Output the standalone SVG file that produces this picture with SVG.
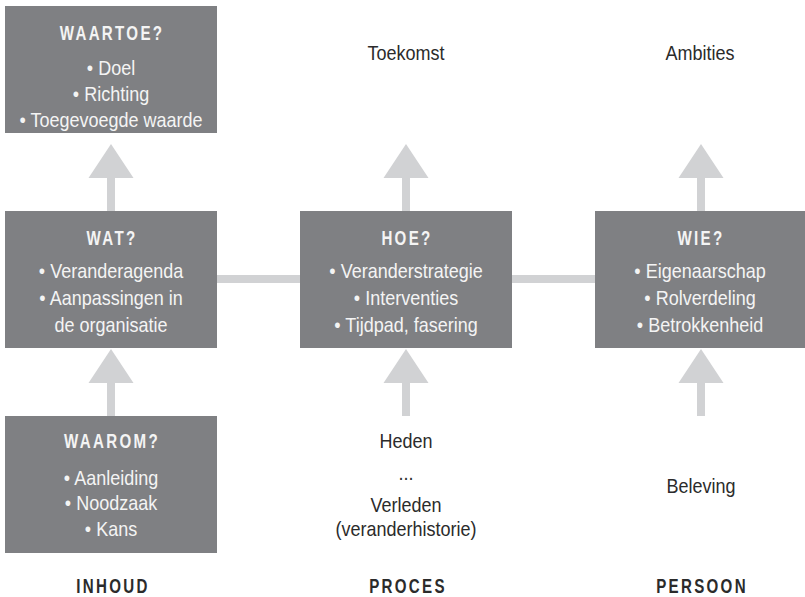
<svg xmlns="http://www.w3.org/2000/svg" width="805" height="597" viewBox="0 0 805 597">
<style>
.box{fill:#7f8083}
.arr{fill:#d1d2d4}
.t{font-family:"Liberation Sans",Arial,sans-serif;font-size:20px;text-anchor:middle}
.w{fill:#f4f4f4}
.d{fill:#2b2b2b}
.h{font-weight:bold;letter-spacing:3.2px;font-size:21px}
</style>
<rect width="805" height="597" fill="#ffffff"/>
<defs>
<path id="arrow" d="M0,0 L22.5,34 L4,34 L4,67 L-4,67 L-4,34 L-22.5,34 Z"/>
</defs>
<g id="connectors">
<rect class="arr" x="217" y="275" width="83" height="8"/>
<rect class="arr" x="512" y="275" width="83" height="8"/>
<use href="#arrow" class="arr" x="111" y="144"/>
<use href="#arrow" class="arr" x="406" y="144"/>
<use href="#arrow" class="arr" x="701" y="144"/>
<use href="#arrow" class="arr" x="111" y="349"/>
<use href="#arrow" class="arr" x="406" y="349"/>
<use href="#arrow" class="arr" x="701" y="349"/>
</g>
<g id="waartoe">
<rect class="box" x="5" y="6" width="212" height="127"/>
<text class="t w h" transform="translate(112,40) scale(0.72,1)">WAARTOE?</text>
<text class="t w" transform="translate(111,75) scale(0.9,1)">• Doel</text>
<text class="t w" transform="translate(111,101) scale(0.9,1)">• Richting</text>
<text class="t w" transform="translate(111,127) scale(0.9,1)">• Toegevoegde waarde</text>
</g>
<g id="wat">
<rect class="box" x="5" y="211" width="212" height="137"/>
<text class="t w h" transform="translate(112,245) scale(0.72,1)">WAT?</text>
<text class="t w" transform="translate(111,278) scale(0.9,1)">• Veranderagenda</text>
<text class="t w" transform="translate(111,305) scale(0.9,1)">• Aanpassingen in</text>
<text class="t w" transform="translate(111,332) scale(0.9,1)">de organisatie</text>
</g>
<g id="hoe">
<rect class="box" x="300" y="211" width="212" height="137"/>
<text class="t w h" transform="translate(407,245) scale(0.72,1)">HOE?</text>
<text class="t w" transform="translate(406,278) scale(0.9,1)">• Veranderstrategie</text>
<text class="t w" transform="translate(406,305) scale(0.9,1)">• Interventies</text>
<text class="t w" transform="translate(406,332) scale(0.9,1)">• Tijdpad, fasering</text>
</g>
<g id="wie">
<rect class="box" x="595" y="211" width="210" height="137"/>
<text class="t w h" transform="translate(701,245) scale(0.72,1)">WIE?</text>
<text class="t w" transform="translate(700,278) scale(0.9,1)">• Eigenaarschap</text>
<text class="t w" transform="translate(700,305) scale(0.9,1)">• Rolverdeling</text>
<text class="t w" transform="translate(700,332) scale(0.9,1)">• Betrokkenheid</text>
</g>
<g id="waarom">
<rect class="box" x="5" y="416" width="212" height="137"/>
<text class="t w h" transform="translate(112,448) scale(0.72,1)">WAAROM?</text>
<text class="t w" transform="translate(111,485) scale(0.9,1)">• Aanleiding</text>
<text class="t w" transform="translate(111,510) scale(0.9,1)">• Noodzaak</text>
<text class="t w" transform="translate(111,536) scale(0.9,1)">• Kans</text>
</g>
<g id="toekomst"><text class="t d" transform="translate(406,60) scale(0.9,1)">Toekomst</text></g>
<g id="ambities"><text class="t d" transform="translate(700,60) scale(0.9,1)">Ambities</text></g>
<g id="heden">
<text class="t d" transform="translate(406,448) scale(0.9,1)">Heden</text>
<text class="t d" transform="translate(406,480) scale(0.9,1)">...</text>
<text class="t d" transform="translate(406,512) scale(0.9,1)">Verleden</text>
<text class="t d" transform="translate(406,536) scale(0.9,1)">(veranderhistorie)</text>
</g>
<g id="beleving"><text class="t d" transform="translate(701,493) scale(0.9,1)">Beleving</text></g>
<g id="inhoud"><text class="t d h" transform="translate(113,593) scale(0.72,1)">INHOUD</text></g>
<g id="proces"><text class="t d h" transform="translate(408,593) scale(0.72,1)">PROCES</text></g>
<g id="persoon"><text class="t d h" transform="translate(702,593) scale(0.72,1)">PERSOON</text></g>
</svg>
